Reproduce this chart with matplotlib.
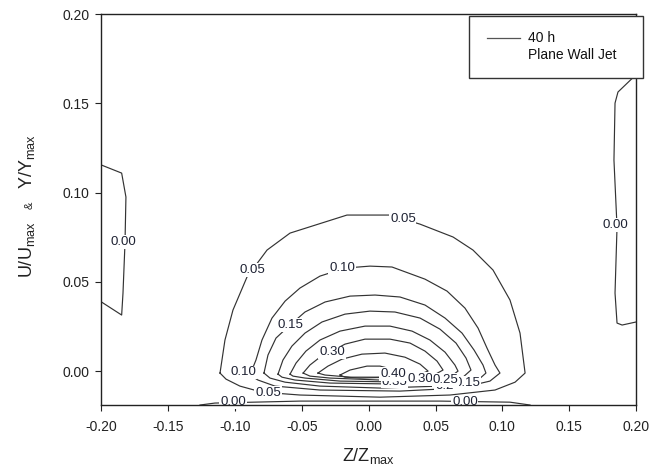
import matplotlib
matplotlib.use("Agg")
import matplotlib.pyplot as plt
from matplotlib.patches import Rectangle

plt.rcParams['font.family'] = ['Liberation Sans', 'DejaVu Sans']
plt.rcParams['mathtext.fontset'] = 'custom'
plt.rcParams['mathtext.rm'] = 'Liberation Sans'
plt.rcParams['mathtext.it'] = 'Liberation Sans'
plt.rcParams['mathtext.bf'] = 'Liberation Sans:bold'

# ---- contour lines of U/Umax (Z/Zmax, Y/Ymax), 40 h, plane wall jet ----
c000_bottom_x = [-0.1263, -0.1151, -0.0515, 0.0533, 0.1057, 0.1207]
c000_bottom_y = [-0.0190, -0.0179, -0.0168, -0.0168, -0.0174, -0.0190]

c000_left_x = [-0.2000, -0.1849, -0.1817, -0.1824, -0.1839, -0.1849, -0.2000]
c000_left_y = [0.1154, 0.1109, 0.0975, 0.0717, 0.0437, 0.0314, 0.0387]

c000_right_x = [0.2000, 0.1865, 0.1843, 0.1835, 0.1858, 0.1843, 0.1858, 0.1896, 0.2000]
c000_right_y = [0.1660, 0.1563, 0.1501, 0.1182, 0.0807, 0.0437, 0.0269, 0.0258, 0.0275]

c005_x = [-0.1113, -0.1076, -0.1016, -0.0911, -0.0761, -0.0589, -0.0163, 0.0159,
          0.0384, 0.0631, 0.0780, 0.0930, 0.1057, 0.1132, 0.1170, 0.1095, 0.0945,
          0.0608, 0.0084, -0.0514, -0.0799, -0.0964, -0.1068]
c005_y = [-0.0011, 0.0174, 0.0342, 0.0527, 0.0678, 0.0773, 0.0874, 0.0874,
          0.0823, 0.0751, 0.0678, 0.0566, 0.0398, 0.0213, -0.0011, -0.0062, -0.0106,
          -0.0134, -0.0146, -0.0134, -0.0118, -0.0084, -0.0045]

c010_x = [-0.0889, -0.0844, -0.0799, -0.0724, -0.0626, -0.0515, -0.0365, -0.0178,
          0.0009, 0.0174, 0.0421, 0.0586, 0.0720, 0.0818, 0.0885, 0.0945, 0.0982,
          0.0907, 0.0683, 0.0234, -0.0365, -0.0702, -0.0829]
c010_y = [-0.0022, 0.0062, 0.0174, 0.0297, 0.0392, 0.0465, 0.0532, 0.0577,
          0.0588, 0.0583, 0.0515, 0.0448, 0.0353, 0.0241, 0.0129, 0.0034, -0.0011,
          -0.0056, -0.0095, -0.0112, -0.0106, -0.0084, -0.0050]

c015_x = [-0.0784, -0.0754, -0.0694, -0.0589, -0.0477, -0.0327, -0.0140, 0.0047,
          0.0234, 0.0421, 0.0571, 0.0698, 0.0788, 0.0855, 0.0877, 0.0818, 0.0735,
          0.0533, 0.0084, -0.0365, -0.0626, -0.0739]
c015_y = [-0.0011, 0.0090, 0.0185, 0.0258, 0.0331, 0.0387, 0.0420, 0.0426,
          0.0415, 0.0370, 0.0297, 0.0213, 0.0118, 0.0034, -0.0011, -0.0050, -0.0067,
          -0.0084, -0.0095, -0.0084, -0.0062, -0.0039]

c020_x = [-0.0679, -0.0642, -0.0575, -0.0477, -0.0350, -0.0178, 0.0009, 0.0196,
          0.0384, 0.0533, 0.0653, 0.0728, 0.0765, 0.0698, 0.0571, 0.0234, -0.0290,
          -0.0552, -0.0649]
c020_y = [-0.0017, 0.0062, 0.0140, 0.0213, 0.0275, 0.0319, 0.0336, 0.0331,
          0.0297, 0.0235, 0.0157, 0.0073, 0.0006, -0.0039, -0.0062, -0.0073, -0.0067,
          -0.0050, -0.0034]

c025_x = [-0.0589, -0.0544, -0.0470, -0.0365, -0.0215, -0.0028, 0.0159, 0.0324,
          0.0458, 0.0571, 0.0645, 0.0668, 0.0608, 0.0533, 0.0309, -0.0215, -0.0477,
          -0.0567]
c025_y = [-0.0017, 0.0045, 0.0112, 0.0174, 0.0224, 0.0252, 0.0252, 0.0224,
          0.0174, 0.0106, 0.0034, 0.0000, -0.0034, -0.0050, -0.0062, -0.0056, -0.0039,
          -0.0028]

c030_x = [-0.0491, -0.0440, -0.0365, -0.0275, -0.0178, -0.0028, 0.0159, 0.0309,
          0.0421, 0.0511, 0.0556, 0.0473, 0.0384, 0.0084, -0.0290, -0.0440]
c030_y = [-0.0011, 0.0034, 0.0078, 0.0112, 0.0151, 0.0179, 0.0179, 0.0157,
          0.0112, 0.0056, 0.0006, -0.0028, -0.0045, -0.0050, -0.0039, -0.0028]

c035_x = [-0.0380, -0.0305, -0.0200, -0.0051, 0.0121, 0.0271, 0.0384, 0.0444,
          0.0346, 0.0182, -0.0140, -0.0327]
c035_y = [-0.0011, 0.0028, 0.0067, 0.0095, 0.0101, 0.0078, 0.0039, 0.0000,
          -0.0028, -0.0034, -0.0034, -0.0022]

c040_x = [-0.0215, -0.0140, -0.0013, 0.0084, 0.0174, 0.0234, 0.0159, -0.0065, -0.0178]
c040_y = [-0.0022, 0.0006, 0.0028, 0.0028, 0.0011, -0.0017, -0.0034, -0.0039, -0.0034]

# inline contour labels: text, x, y
label_text = ['0.00', '0.00', '0.05', '0.05', '0.10', '0.15', '0.30', '0.10', '0.05',
              '0.00', '0.00', '0.35', '0.40', '0.20', '0.15', '0.30', '0.25']
label_x = [-0.1839, 0.1843, 0.0256, -0.0874, -0.0200, -0.0589, -0.0275, -0.0941,
           -0.0754, -0.1016, 0.0720, 0.0190, 0.0181, 0.0593, 0.0735, 0.0384, 0.0571]
label_y = [0.0723, 0.0818, 0.0852, 0.0566, 0.0577, 0.0258, 0.0106, -0.0006,
           -0.0123, -0.0174, -0.0174, -0.0060, -0.0017, -0.0086, -0.0067, -0.0045, -0.0050]

x_ticks = [-0.20, -0.15, -0.10, -0.05, 0.00, 0.05, 0.10, 0.15, 0.20]
y_ticks = [0.00, 0.05, 0.10, 0.15, 0.20]

fig = plt.figure(figsize=(6.65, 4.72), dpi=100)
ax = fig.add_axes([0.1526, 0.1419, 0.8038, 0.8284])

line_kw = dict(color='#333333', lw=0.85, solid_joinstyle='round', zorder=2)

closed = [(c005_x, c005_y), (c010_x, c010_y), (c015_x, c015_y), (c020_x, c020_y),
          (c025_x, c025_y), (c030_x, c030_y), (c035_x, c035_y), (c040_x, c040_y)]
for cx, cy in closed:
    ax.plot(list(cx) + [cx[0]], list(cy) + [cy[0]], **line_kw)

for cx, cy in [(c000_bottom_x, c000_bottom_y), (c000_left_x, c000_left_y),
               (c000_right_x, c000_right_y)]:
    ax.plot(cx, cy, **line_kw)

for t, lx, ly in zip(label_text, label_x, label_y):
    ax.text(lx, ly, t, fontsize=9.5, color='#1e2233', ha='center', va='center',
            zorder=2.2, bbox=dict(boxstyle='square,pad=0.05', fc='white', ec='none'))

ax.set_xlim(-0.20, 0.20)
ax.set_ylim(-0.019, 0.20)
ax.set_xticks(x_ticks)
ax.set_yticks(y_ticks)
ax.set_xticklabels([f'{v:.2f}' for v in x_ticks])
ax.set_yticklabels([f'{v:.2f}' for v in y_ticks])
ax.tick_params(direction='out', length=4.5, width=0.8, labelsize=10,
               colors='#222222', top=False, right=False)
ax.tick_params(axis='x', pad=6)
ax.tick_params(axis='y', pad=4)
for s in ax.spines.values():
    s.set_linewidth(1.0)
    s.set_color('#222222')
    s.set_zorder(2.5)

ax.set_xlabel(r'Z/Z$_{\rm max}$', fontsize=13, color='#222222')
ax.xaxis.set_label_coords(0.5, -0.105)

# vertical axis title in three pieces: U/Umax, a small '&', Y/Ymax
ylab_kw = dict(rotation=90, rotation_mode='anchor', ha='center', va='baseline',
               color='#222222')
fig.text(0.0481, 0.4703, r'U/U$_{\rm max}$', fontsize=13, **ylab_kw)
fig.text(0.0496, 0.5657, '&', fontsize=8, **ylab_kw)
fig.text(0.0481, 0.6578, r'Y/Y$_{\rm max}$', fontsize=13, **ylab_kw)

# legend box
ax.add_patch(Rectangle((0.688, 0.836), 0.325, 0.159, transform=ax.transAxes,
                       fc='white', ec='#333333', lw=1.0, clip_on=False, zorder=5))
ax.plot([0.721, 0.783], [0.9386, 0.9386], transform=ax.transAxes, color='#555555',
        lw=0.9, clip_on=False, zorder=6)
ax.text(0.798, 0.9386, '40 h', transform=ax.transAxes, fontsize=10, va='center',
        ha='left', color='#111111', zorder=6)
ax.text(0.798, 0.895, 'Plane Wall Jet', transform=ax.transAxes, fontsize=10,
        va='center', ha='left', color='#111111', zorder=6)

fig.savefig('out.png', dpi=100)
